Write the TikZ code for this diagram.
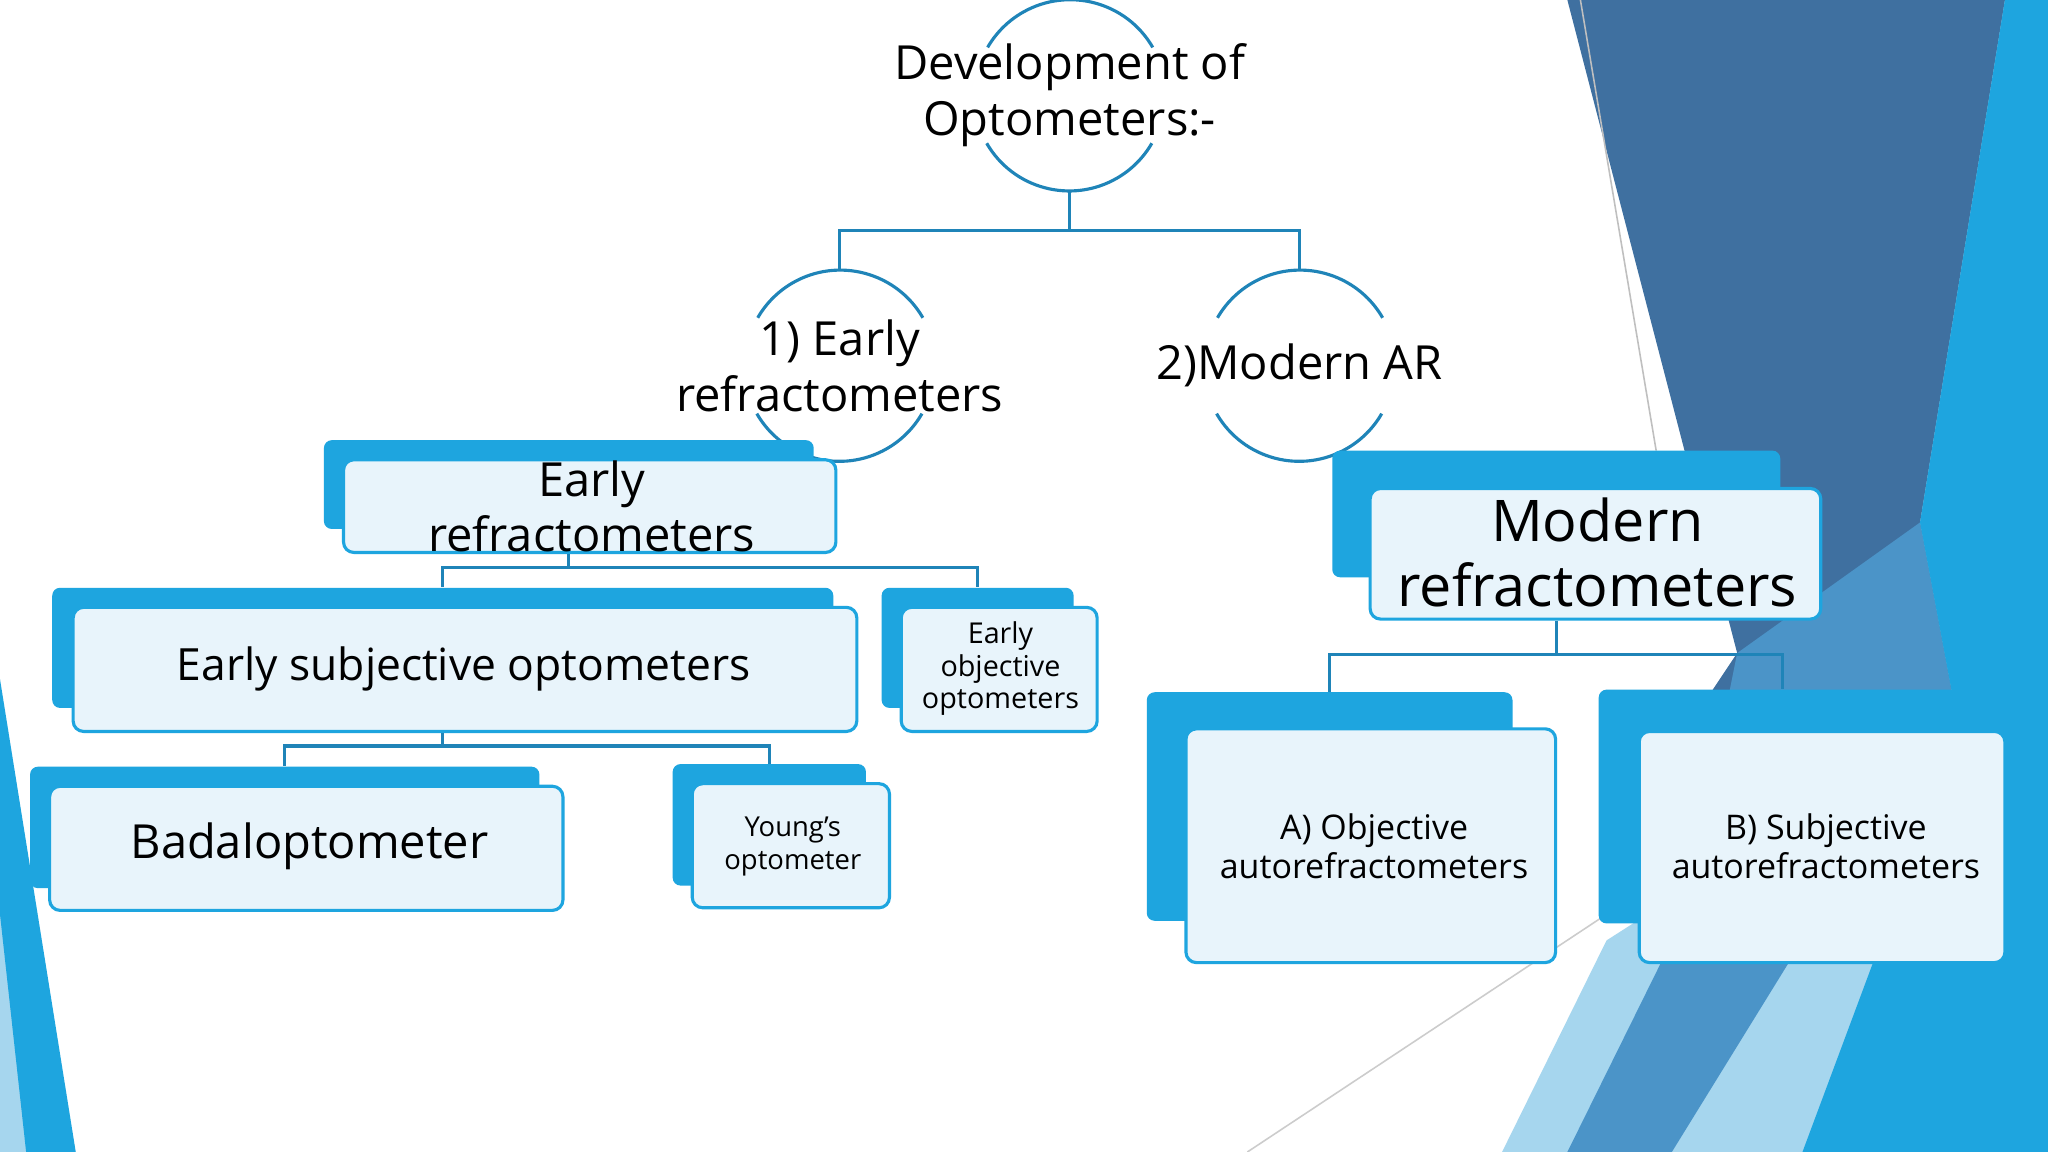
\documentclass[tikz,border=0pt]{standalone}
\usepackage{fontspec}
\setmainfont{Open Sans}
\usetikzlibrary{fit}
\definecolor{bb}{HTML}{1EA5DF}
\definecolor{ln}{HTML}{1F84B8}
\definecolor{fr}{HTML}{E8F4FB}
\definecolor{dk}{HTML}{3F70A0}
\definecolor{lt}{HTML}{A6D6EE}
\definecolor{md}{HTML}{4B94C8}
\begin{document}
\begin{tikzpicture}[x=0.5pt,y=-0.5pt,
 back/.style={fill=bb,draw=none,rounded corners=3pt,inner sep=0pt},
 front/.style={fill=fr,draw=bb,line width=1.2pt,rounded corners=4pt,inner sep=0pt},
 conn/.style={draw=ln,line width=1.2pt},
 arc/.style={draw=ln,line width=1.2pt},
 txt/.style={align=center,inner sep=0pt,text=black}]
\useasboundingbox (0,0) rectangle (1568,882);
\fill[white] (0,0) rectangle (1568,882);
% background right
\fill[lt] (1210,0) -- (1290,0) -- (1480,560) -- (1230,720) -- (1150,882) -- (1568,882) -- (1568,0) -- cycle;
\fill[dk] (1200,0) -- (1535,0) -- (1470,400) -- (1500,560) -- (1330,700) -- (1290,560) -- (1330,500) -- cycle;
\fill[md] (1330,500) -- (1470,400) -- (1500,560) -- (1380,720) -- (1280,882) -- (1200,882) -- (1290,700)-- cycle;
\fill[bb] (1535,0) -- (1568,0) -- (1568,882) -- (1380,882) -- (1500,560) -- (1470,400) -- cycle;
\draw[gray!50,line width=0.6pt] (1210,0) -- (1268,345);
\draw[gray!40,line width=0.6pt] (955,882) -- (1230,700);
% background left
\fill[lt] (0,600) -- (30,882) -- (0,882) -- cycle;
\fill[bb] (0,520) -- (58,882) -- (20,882) -- (0,700) -- cycle;
% circles
\node[circle,minimum size=146pt*0.5,draw=none,inner sep=0] (c1) at (819,73) {};
\node[circle,minimum size=146pt*0.5,draw=none,inner sep=0] (c2) at (643,280) {};
\node[circle,minimum size=146pt*0.5,draw=none,inner sep=0] (c3) at (995,280) {};
\foreach \c in {c1,c2,c3}{
 \draw[arc] (\c.30) arc[start angle=30,end angle=150,radius=36.5pt];
 \draw[arc] (\c.210) arc[start angle=210,end angle=330,radius=36.5pt];
}
\draw[conn] (c1.south) -- ++(0,30) coordinate (j1);
\draw[conn] (j1) -| (c2.north);
\draw[conn] (j1) -| (c3.north);
\node[txt,font=\fontsize{18}{21.5}\selectfont] at (819,73) {Development of\\Optometers:-};
\node[txt,font=\fontsize{18}{21.5}\selectfont] at (643,280) {1) Early\\refractometers};
\node[txt,font=\fontsize{18}{21.5}\selectfont] at (995,280) {2)Modern AR};
% boxes
\node[back,fit={(248,337) (623,405)}] (erb) {};
\node[front,fit={(263,352) (640,423)}] (er) {};
\node[back,fit={(40,450) (638,542)}] (esb) {};
\node[front,fit={(56,465) (656,560)}] (es) {};
\node[back,fit={(675,450) (822,542)}] (eob) {};
\node[front,fit={(690,465) (840,560)}] (eo) {};
\node[back,fit={(23,587) (413,680)}] (bab) {};
\node[front,fit={(38,602) (431,697)}] (ba) {};
\node[back,fit={(515,585) (663,678)}] (yob) {};
\node[front,fit={(530,600) (681,695)}] (yo) {};
\node[back,fit={(1020,345) (1363,442)}] (mrb) {};
\node[front,fit={(1049,374) (1394,474)}] (mr) {};
\node[back,fit={(878,530) (1158,705)}] (aob) {};
\node[front,fit={(908,558) (1191,737)}] (ao) {};
\node[back,fit={(1224,528) (1505,707)}] (bsb) {};
\node[front,fit={(1255,560) (1535,737)}] (bs) {};
% texts
\node[txt,font=\fontsize{18}{21}\selectfont] at (453,388) {Early\\refractometers};
\node[txt,font=\fontsize{17}{20}\selectfont] at (355,512) {Early subjective optometers};
\node[txt,font=\fontsize{11}{12.5}\selectfont] at (766,512) {Early\\objective\\optometers};
\node[txt,font=\fontsize{18}{21}\selectfont] at (237,648) {Badaloptometer};
\node[txt,font=\fontsize{10.5}{12.5}\selectfont] at (607,648) {Young’s\\optometer};
\node[txt,font=\fontsize{22}{25}\selectfont] at (1223,423) {Modern\\refractometers};
\node[txt,font=\fontsize{13}{15}\selectfont] at (1052,648) {A) Objective\\autorefractometers};
\node[txt,font=\fontsize{13}{15}\selectfont] at (1398,648) {B) Subjective\\autorefractometers};
% connectors
\draw[conn] (erb.south |- er.south) -- ++(0,10) coordinate (j2);
\draw[conn] (j2) -| (esb.north);
\draw[conn] (j2) -| (eob.north);
\draw[conn] (esb.south |- es.south) -- ++(0,10) coordinate (j3);
\draw[conn] (j3) -| (bab.north);
\draw[conn] (j3) -| (yob.north);
\draw[conn] (mrb.south |- mr.south) -- ++(0,26) coordinate (j4);
\draw[conn] (j4) -| (aob.north);
\draw[conn] (j4) -| (bsb.north);
\end{tikzpicture}
\end{document}
